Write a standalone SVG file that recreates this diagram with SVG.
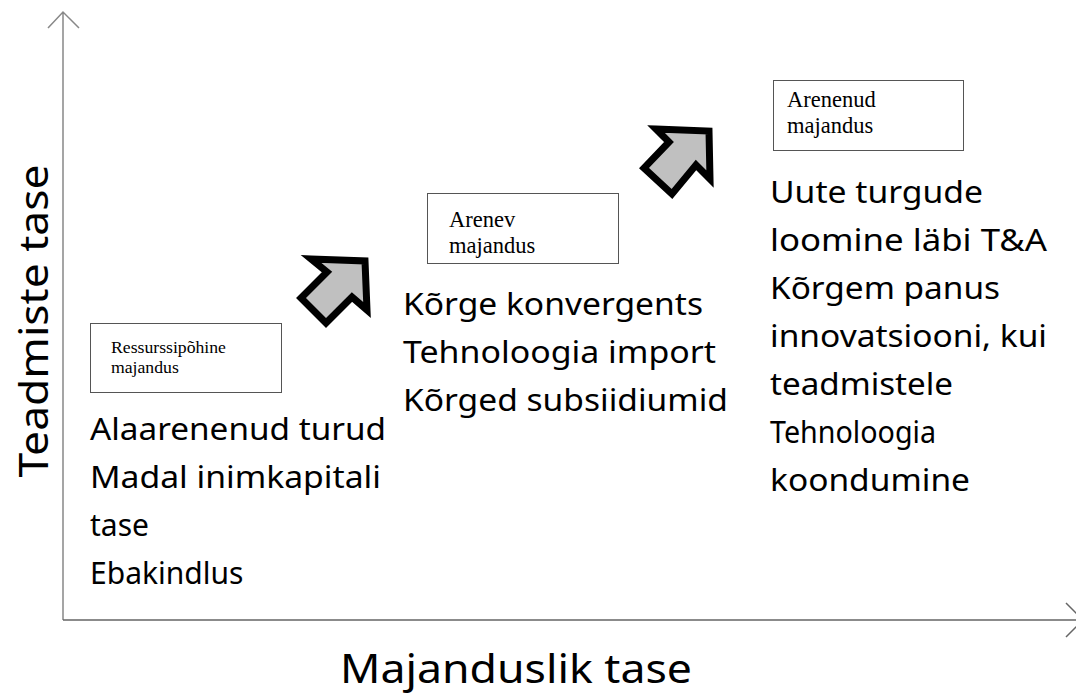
<svg xmlns="http://www.w3.org/2000/svg" width="1076" height="696" viewBox="0 0 1076 696">
<style>
.box{fill:#fff;stroke:#555;stroke-width:1}
.bt{font-family:"Liberation Serif",serif;fill:#000}
.body{font-family:"Noto Sans","Open Sans",sans-serif;font-size:30px;fill:#000}
.ax{font-family:"Noto Sans","Open Sans",sans-serif;font-size:40px;fill:#000}
.axis{stroke:#888;stroke-width:1.5;fill:none}
.arr{fill:#c0c0c0;stroke:#000;stroke-width:7;stroke-linejoin:miter}
</style>
<rect width="1076" height="696" fill="#fff"/>
<g id="connectors">
<path class="axis" d="M63,620 V12 M48,28 L63,12 L79,28"/>
<path class="axis" style="stroke:#666" d="M63,620 H1076 M1066,603 L1080,617 M1066,637 L1080,623"/>
<polygon id="arrow1" class="arr" points="311,259 365,261 367,310 352,297 326,323 301,298 327,272"/>
<polygon id="arrow2" class="arr" points="656,129 709,131 710,179 696,165 672,194 644,168 669,142"/>
</g>
<g id="node1">
<rect class="box" x="90.5" y="323.5" width="191" height="69"/>
<text class="bt" font-size="17.7" x="111" y="353">Ressurssipõhine</text>
<text class="bt" font-size="17.7" x="111" y="373">majandus</text>
</g>
<g id="node2">
<rect class="box" x="427.5" y="193.5" width="191" height="70"/>
<text class="bt" font-size="22.5" x="449" y="227">Arenev</text>
<text class="bt" font-size="22.5" x="449" y="253">majandus</text>
</g>
<g id="node3">
<rect class="box" x="773.5" y="80.5" width="190" height="70"/>
<text class="bt" font-size="22.5" x="787" y="107">Arenenud</text>
<text class="bt" font-size="22.5" x="787" y="133">majandus</text>
</g>
<g id="text1" class="body">
<text x="90" y="440" textLength="296" lengthAdjust="spacingAndGlyphs">Alaarenenud turud</text>
<text x="90" y="488" textLength="291" lengthAdjust="spacingAndGlyphs">Madal inimkapitali</text>
<text x="90" y="536">tase</text>
<text x="90" y="584">Ebakindlus</text>
</g>
<g id="text2" class="body">
<text x="403" y="315" textLength="300" lengthAdjust="spacingAndGlyphs">Kõrge konvergents</text>
<text x="403" y="363" textLength="313" lengthAdjust="spacingAndGlyphs">Tehnoloogia import</text>
<text x="403" y="411" textLength="325" lengthAdjust="spacingAndGlyphs">Kõrged subsiidiumid</text>
</g>
<g id="text3" class="body">
<text x="770" y="203" textLength="213" lengthAdjust="spacingAndGlyphs">Uute turgude</text>
<text x="770" y="251" textLength="277" lengthAdjust="spacingAndGlyphs">loomine läbi T&amp;A</text>
<text x="770" y="299" textLength="230" lengthAdjust="spacingAndGlyphs">Kõrgem panus</text>
<text x="770" y="347" textLength="277" lengthAdjust="spacingAndGlyphs">innovatsiooni, kui</text>
<text x="770" y="395" textLength="183" lengthAdjust="spacingAndGlyphs">teadmistele</text>
<text x="770" y="443" textLength="166" lengthAdjust="spacingAndGlyphs">Tehnoloogia</text>
<text x="770" y="491" textLength="200" lengthAdjust="spacingAndGlyphs">koondumine</text>
</g>
<text class="ax" x="516" y="683" text-anchor="middle" textLength="352" lengthAdjust="spacingAndGlyphs">Majanduslik tase</text>
<text class="ax" transform="translate(48,321) rotate(-90)" text-anchor="middle" textLength="313" lengthAdjust="spacingAndGlyphs">Teadmiste tase</text>
</svg>
